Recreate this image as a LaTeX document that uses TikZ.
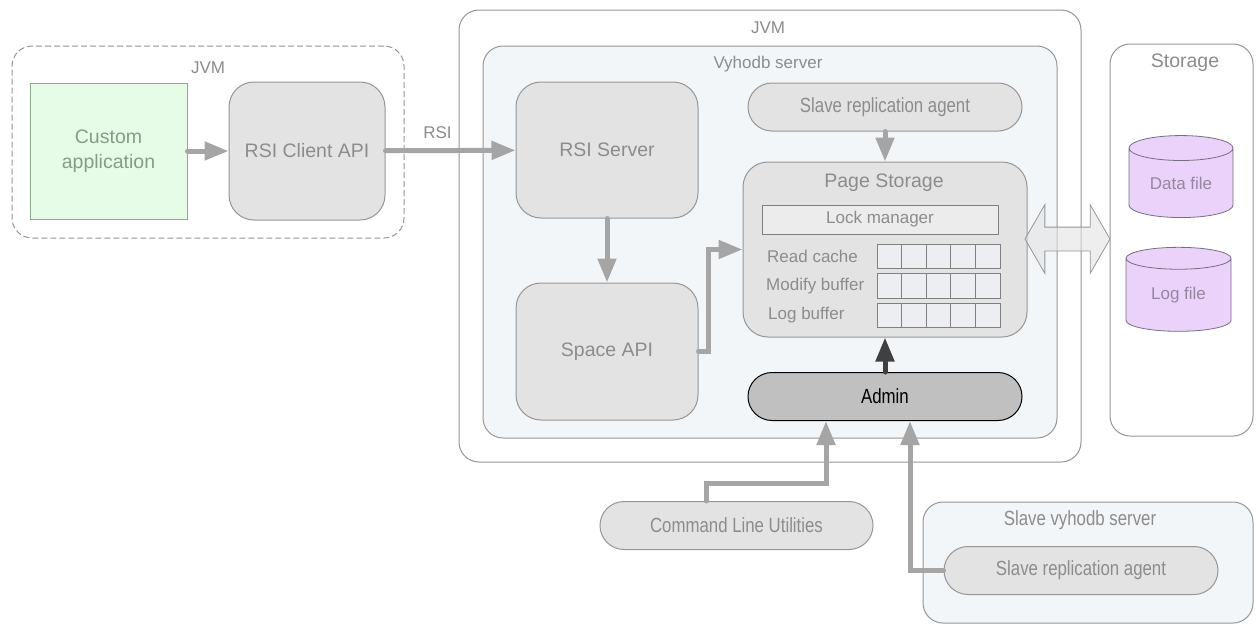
\documentclass[tikz,border=0pt]{standalone}
\usepackage{fontspec}
\setmainfont{Liberation Sans}
\newfontfamily\narrowfont{Liberation Sans}[FakeStretch=0.82]
\usetikzlibrary{positioning, arrows.meta, shapes.geometric, shapes.arrows}
\definecolor{txtgray}{RGB}{140,140,140}
\definecolor{linegray}{RGB}{150,150,150}
\definecolor{boxgray}{RGB}{227,227,227}
\definecolor{lockfill}{RGB}{236,236,236}
\definecolor{panel}{RGB}{243,246,249}
\definecolor{appgreen}{RGB}{230,252,230}
\definecolor{appline}{RGB}{140,170,140}
\definecolor{apptext}{RGB}{135,155,135}
\definecolor{filepurple}{RGB}{234,210,250}
\definecolor{fileline}{RGB}{120,110,130}
\definecolor{filetext}{RGB}{150,135,160}
\definecolor{flowgray}{RGB}{165,165,165}
\definecolor{flowdark}{RGB}{64,64,64}
\definecolor{admingray}{RGB}{192,192,192}
\definecolor{cellfill}{RGB}{236,238,241}
\tikzset{
    x=1pt, y=-1pt, % pixel-like units
    every node/.style={font=\fontsize{17}{20}\selectfont, text=txtgray, inner sep=0pt},
    big/.style={font=\fontsize{19.5}{25}\selectfont}, % larger labels
    narrow/.style={font=\narrowfont\fontsize{20.5}{24}\selectfont}, % condensed labels
    frame/.style={draw=linegray, line width=1pt, rounded corners=20pt}, % containers
    block/.style={draw=linegray, line width=1pt, fill=boxgray, rounded corners=25pt},
    pill/.style={narrow, draw=linegray, line width=1pt, fill=boxgray, rounded corners=24pt, minimum width=274pt, minimum height=48pt},
    cell/.style={draw=gray, line width=0.8pt, fill=cellfill, minimum width=24.6pt, minimum height=24.5pt},
    flow/.style={draw=flowgray, line width=5pt, line cap=round, -{Triangle[length=24pt, width=18pt]}},
    datafile/.style={cylinder, shape border rotate=90, draw=fileline, line width=0.8pt, fill=filepurple, text=filetext, aspect=0.4},
}

\begin{document}
\begin{tikzpicture}
    \path[use as bounding box, fill=white] (0,0) rectangle (1259,624);

    % containers
    \node[frame, dash pattern=on 6pt off 3pt, minimum width=392pt, minimum height=192pt] (jvmc) at (208,142) {};
    \node (jvmct) at (208,68) {JVM};
    \node[frame, minimum width=622pt, minimum height=452pt] (jvms) at (770,236) {};
    \node (jvmst) at (768,28) {JVM};
    \node[frame, fill=panel, minimum width=574pt, minimum height=392pt] (vyh) at (770,242) {};
    \node (vyht) at (768,64) {Vyhodb server};
    \node[frame, minimum width=143pt, minimum height=392pt] (stor) at (1181.5,240) {};
    \node[big] (stort) at (1185,63) {Storage};
    \node[frame, fill=panel, minimum width=330pt, minimum height=121pt] (slv) at (1088,562.5) {};
    \node[narrow] (slvt) at (1080,520) {Slave vyhodb server};

    % client side
    \node[draw=appline, line width=1pt, fill=appgreen, text=apptext, big, align=center, minimum width=157pt, minimum height=136pt] (app) at (108.5,151) {Custom\\application};
    \node[block, big, minimum width=156pt, minimum height=138pt] (rci) at (307,151) {RSI Client API};

    % server
    \node[block, big, minimum width=182pt, minimum height=136pt] (rsis) at (607,150) {RSI Server};
    \node[block, big, minimum width=182pt, minimum height=137pt] (spc) at (607,351.5) {Space API};
    \node[pill] (sra) at (885,107) {Slave replication agent};
    \node[block, minimum width=284pt, minimum height=175pt] (ps) at (885,249.5) {};
    \node[big] (pst) at (884,183) {Page Storage};
    \node[draw=gray, line width=0.8pt, fill=lockfill, minimum width=236pt, minimum height=29pt] (lock) at (880,219.5) {Lock manager};
    \node[anchor=west] (rcl) at (767,256.5) {Read cache};
    \node[anchor=west] (mbl) at (766,286) {Modify buffer};
    \node[anchor=west] (lbl) at (768,315.5) {Log buffer};
    \foreach \r/\y in {rc/256.5, mb/286, lb/315.5}
        \foreach \i in {0,...,4}
            \node[cell] (\r\i) at ({889.3+24.6*\i}, \y) {};
    \node[pill, draw=black, fill=admingray, text=black] (adm) at (885,396.5) {Admin};

    % outside
    \node[pill, minimum width=273pt] (cmd) at (736.5,525.5) {Command Line Utilities};
    \node[pill] (sra2) at (1081,570.5) {Slave replication agent};

    % storage
    \node[datafile, minimum width=104pt, minimum height=82pt] (dat) at (1181,183) {Data file};
    \node[datafile, minimum width=105pt, minimum height=84pt] (log) at (1178.5,295) {Log file};

    % connectors
    \draw[flow] (app) -- (rci);
    \draw[flow] (rci) -- node[above, pos=0.4, yshift=9pt] {RSI} (rsis);
    \draw[flow] (rsis) -- (spc);
    \draw[flow] (spc.east) -- ++(10,0) |- (ps.west);
    \draw[flow] (sra) -- (ps);
    \draw[flow, draw=flowdark] (adm) -- (ps);
    \draw[flow] ([xshift=-30pt]cmd.north) -- ++(0,-18) -| ([xshift=-59pt]adm.south);
    \draw[flow] (sra2.west) -| ([xshift=25pt]adm.south);
    \node[double arrow, draw=linegray, line width=0.8pt, fill=boxgray, fill opacity=0.6, inner xsep=0pt, inner ysep=11.5pt,
          minimum height=85pt, double arrow head extend=22.5pt, double arrow tip angle=120] (io) at (1067.5,239) {};
\end{tikzpicture}
\end{document}
